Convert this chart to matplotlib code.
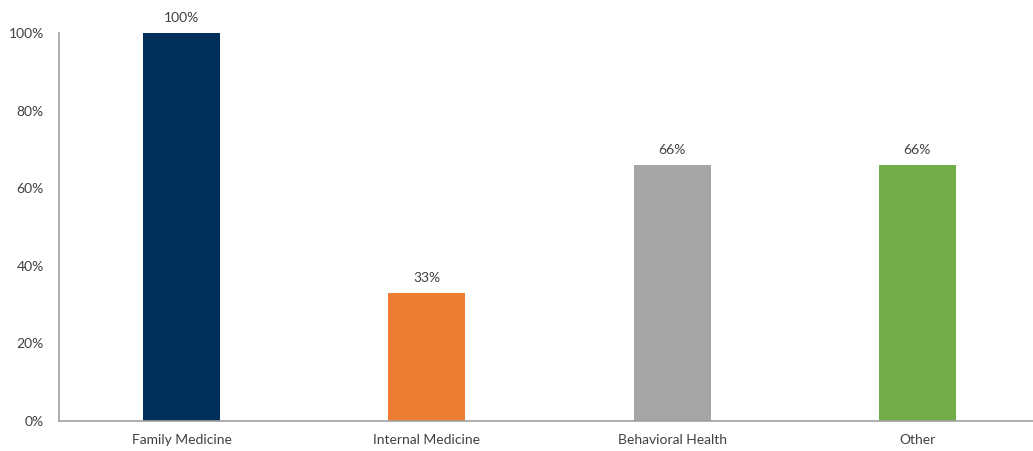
import matplotlib.pyplot as plt
from matplotlib.ticker import PercentFormatter

specialties = ["Family Medicine", "Internal Medicine", "Behavioral Health", "Other"]
shares = [100, 33, 66, 66]
colors = ["#002f5c", "#ed7d31", "#a5a5a5", "#70ad47"]

plt.rcParams["font.family"] = ["Lato", "DejaVu Sans"]

fig = plt.figure(figsize=(10.33, 4.51), dpi=100)
# plot area runs a little past the right edge of the canvas
ax = fig.add_axes([59 / 1033, 30 / 451, 981 / 1033, 388 / 451])

x = range(len(specialties))
bars = ax.bar(x, shares, width=0.314, color=colors)

for b, v in zip(bars, shares):
    ax.text(b.get_x() + b.get_width() / 2, v + 2.3, f"{v}%",
            ha="center", va="bottom", fontsize=10, color="#404040")

ax.set_xlim(-0.5, 3.5)
ax.set_ylim(0, 100)
ax.set_yticks([0, 20, 40, 60, 80, 100])
ax.yaxis.set_major_formatter(PercentFormatter(decimals=0))
ax.set_xticks(list(x))
ax.set_xticklabels(specialties)
ax.tick_params(axis="both", length=0, labelsize=10, labelcolor="#404040")
ax.tick_params(axis="x", pad=9)
ax.tick_params(axis="y", pad=11)

for s in ["top", "right"]:
    ax.spines[s].set_visible(False)
for s in ["left", "bottom"]:
    ax.spines[s].set_color("#a0a0a0")
    ax.spines[s].set_linewidth(1.2)

fig.savefig("out.png", dpi=100)
